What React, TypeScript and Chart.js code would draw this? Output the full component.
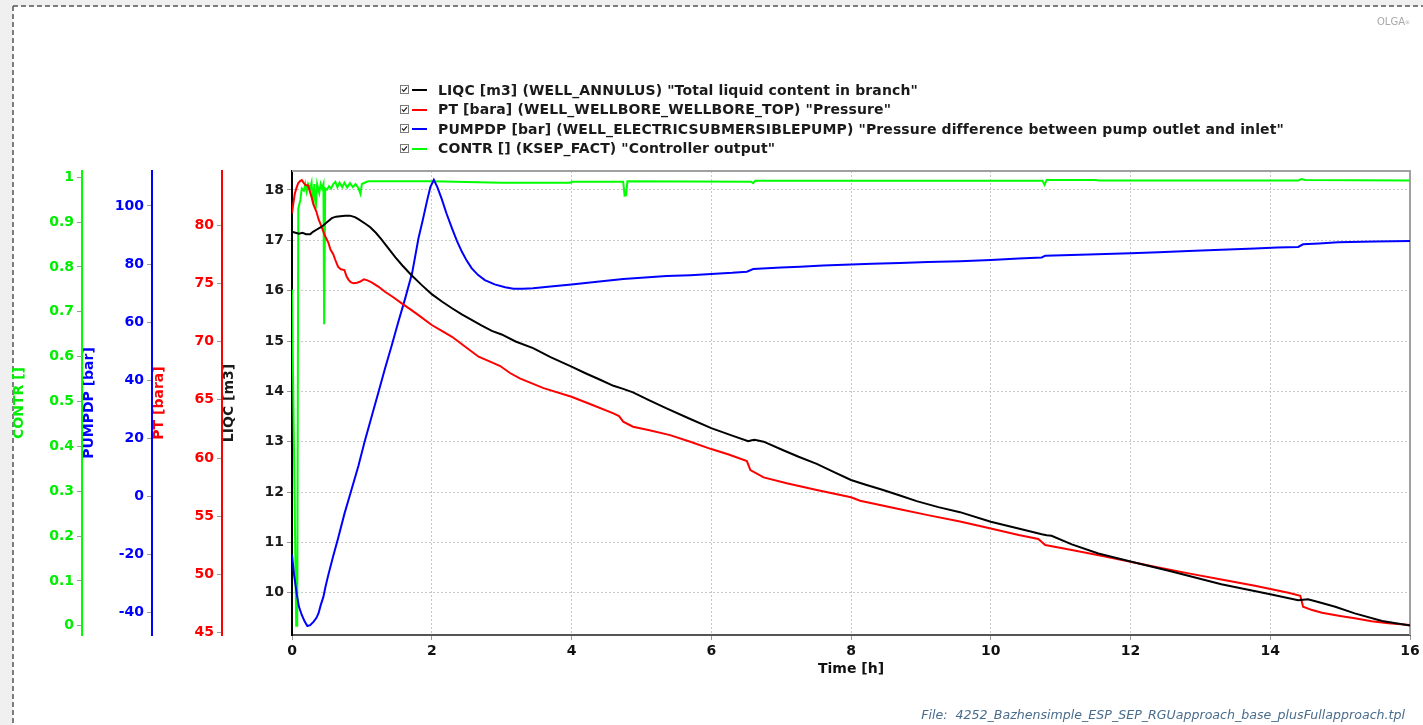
import React, { useEffect, useRef } from "react";
import { Chart, registerables } from "chart.js";

Chart.register(...registerables);

const FONT = '"DejaVu Sans", Verdana, sans-serif';

// ---------- legend / series ----------
const seriesLabels = [
  'LIQC [m3] (WELL_ANNULUS) "Total liquid content in branch"',
  'PT [bara] (WELL_WELLBORE_WELLBORE_TOP) "Pressure"',
  'PUMPDP [bar] (WELL_ELECTRICSUBMERSIBLEPUMP) "Pressure difference between pump outlet and inlet"',
  'CONTR [] (KSEP_FACT) "Controller output"',
];
const seriesColors = ["#000000", "#ff0000", "#0000ff", "#00ff00"];

// ---------- LIQC [m3] ----------
const liqcTime = [0.0, 0.05, 0.1, 0.15, 0.2, 0.26, 0.3, 0.35, 0.4, 0.45, 0.5, 0.57, 0.63, 0.69, 0.76, 0.83, 0.9, 0.95, 1.05, 1.12, 1.2, 1.28, 1.38, 1.48, 1.58, 1.7, 1.85, 2.0, 2.15, 2.29, 2.43, 2.57, 2.71, 2.86, 3.0, 3.2, 3.45, 3.7, 4.0, 4.2, 4.41, 4.6, 4.74, 4.88, 5.1, 5.36, 5.7, 6.0, 6.3, 6.53, 6.58, 6.62, 6.75, 7.03, 7.25, 7.51, 7.75, 8.0, 8.2, 8.46, 8.7, 8.94, 9.25, 9.56, 10.0, 10.44, 10.73, 10.8, 10.87, 11.16, 11.54, 12.0, 12.59, 13.3, 14.0, 14.4, 14.47, 14.54, 14.7, 14.93, 15.21, 15.6, 16.0];
const liqcValues = [17.17, 17.15, 17.13, 17.15, 17.12, 17.12, 17.17, 17.21, 17.25, 17.3, 17.36, 17.44, 17.47, 17.48, 17.49, 17.49, 17.46, 17.42, 17.33, 17.26, 17.15, 17.02, 16.84, 16.66, 16.5, 16.32, 16.12, 15.93, 15.78, 15.65, 15.53, 15.42, 15.31, 15.2, 15.13, 14.99, 14.86, 14.68, 14.49, 14.36, 14.23, 14.11, 14.05, 13.98, 13.83, 13.66, 13.45, 13.27, 13.12, 13.01, 13.03, 13.04, 13.0, 12.83, 12.7, 12.56, 12.4, 12.24, 12.15, 12.04, 11.93, 11.82, 11.7, 11.6, 11.41, 11.26, 11.16, 11.14, 11.13, 10.96, 10.78, 10.62, 10.42, 10.17, 9.97, 9.85, 9.86, 9.87, 9.81, 9.72, 9.59, 9.44, 9.35];

// ---------- PT [bara] ----------
const ptTime = [0.0, 0.02, 0.04, 0.07, 0.09, 0.12, 0.14, 0.17, 0.19, 0.23, 0.25, 0.28, 0.31, 0.35, 0.38, 0.42, 0.47, 0.52, 0.55, 0.59, 0.62, 0.66, 0.7, 0.75, 0.78, 0.81, 0.84, 0.88, 0.93, 0.97, 1.03, 1.08, 1.14, 1.24, 1.33, 1.45, 1.57, 1.69, 1.81, 2.0, 2.15, 2.29, 2.48, 2.67, 2.86, 2.98, 3.12, 3.26, 3.6, 4.0, 4.3, 4.6, 4.68, 4.74, 4.88, 5.1, 5.41, 5.7, 6.0, 6.25, 6.51, 6.56, 6.75, 7.08, 7.51, 8.0, 8.13, 8.7, 9.1, 9.56, 10.0, 10.4, 10.68, 10.78, 11.16, 11.6, 12.0, 12.4, 12.83, 13.3, 13.78, 14.26, 14.43, 14.47, 14.6, 14.74, 15.0, 15.21, 15.45, 15.69, 16.0];
const ptValues = [81.0, 81.9, 82.7, 83.3, 83.6, 83.8, 83.86, 83.6, 83.45, 83.4, 83.0, 82.4, 81.7, 81.14, 80.5, 79.9, 79.1, 78.5, 77.9, 77.5, 77.0, 76.4, 76.2, 76.14, 75.6, 75.3, 75.1, 75.0, 75.05, 75.13, 75.34, 75.25, 75.08, 74.7, 74.27, 73.8, 73.28, 72.78, 72.27, 71.42, 70.9, 70.41, 69.55, 68.7, 68.21, 67.9, 67.3, 66.84, 66.0, 65.26, 64.55, 63.83, 63.6, 63.12, 62.69, 62.4, 61.97, 61.4, 60.77, 60.3, 59.74, 58.97, 58.34, 57.83, 57.25, 56.63, 56.34, 55.6, 55.1, 54.55, 53.96, 53.4, 53.05, 52.53, 52.1, 51.6, 51.1, 50.6, 50.1, 49.57, 49.04, 48.44, 48.18, 47.24, 46.95, 46.72, 46.45, 46.24, 46.0, 45.81, 45.67];

// ---------- PUMPDP [bar] ----------
const pumpTime = [0.0, 0.03, 0.07, 0.1, 0.14, 0.18, 0.22, 0.26, 0.31, 0.35, 0.38, 0.41, 0.45, 0.48, 0.52, 0.59, 0.66, 0.75, 0.85, 0.95, 1.04, 1.14, 1.24, 1.33, 1.43, 1.52, 1.62, 1.72, 1.81, 1.87, 1.93, 1.98, 2.03, 2.08, 2.14, 2.21, 2.29, 2.36, 2.43, 2.5, 2.57, 2.66, 2.76, 2.9, 3.05, 3.17, 3.3, 3.45, 3.7, 4.0, 4.4, 4.74, 5.0, 5.36, 5.7, 6.0, 6.3, 6.51, 6.6, 7.0, 7.27, 7.6, 8.0, 8.3, 8.7, 9.1, 9.56, 10.0, 10.4, 10.73, 10.78, 11.4, 12.0, 12.4, 12.83, 13.3, 13.78, 14.1, 14.4, 14.47, 14.7, 14.97, 15.5, 16.0];
const pumpValues = [-20.1, -27.0, -33.9, -38.0, -40.8, -43.0, -44.6, -44.3, -43.1, -41.8, -40.2, -37.5, -34.5, -31.0, -27.0, -20.5, -14.4, -6.0, 2.2, 10.5, 18.9, 27.5, 36.1, 44.0, 52.2, 60.0, 68.2, 77.0, 88.9, 95.0, 101.5, 106.5, 109.0, 106.5, 102.6, 97.5, 92.3, 88.0, 84.3, 81.2, 78.6, 76.3, 74.5, 73.0, 72.0, 71.5, 71.5, 71.7, 72.3, 73.0, 74.0, 74.9, 75.3, 75.9, 76.2, 76.6, 77.0, 77.4, 78.3, 78.8, 79.1, 79.5, 79.9, 80.1, 80.4, 80.7, 81.0, 81.4, 81.9, 82.3, 82.9, 83.3, 83.7, 84.1, 84.5, 84.9, 85.4, 85.7, 85.9, 86.8, 87.1, 87.5, 87.8, 87.95];

// ---------- CONTR [] ----------
const contrTime = [0.0, 0.06, 0.075, 0.09, 0.12, 0.14, 0.17, 0.19, 0.21, 0.23, 0.26, 0.28, 0.3, 0.32, 0.34, 0.36, 0.39, 0.41, 0.43, 0.45, 0.46, 0.475, 0.5, 0.53, 0.56, 0.59, 0.62, 0.65, 0.68, 0.72, 0.75, 0.79, 0.83, 0.87, 0.91, 0.95, 0.98, 1.0, 1.07, 1.1, 2.0, 3.0, 3.99, 4.0, 4.74, 4.76, 4.78, 4.8, 6.57, 6.6, 6.63, 10.74, 10.77, 10.8, 11.5, 11.55, 14.4, 14.45, 14.5, 16.0];
const contrValues = [0.75, 0.0, 0.0, 0.93, 0.95, 0.975, 0.97, 0.985, 0.968, 0.985, 0.975, 0.988, 0.94, 0.985, 0.93, 0.985, 0.965, 0.985, 0.975, 0.985, 0.672, 0.975, 0.972, 0.98, 0.975, 0.985, 0.99, 0.978, 0.988, 0.978, 0.988, 0.977, 0.987, 0.978, 0.985, 0.976, 0.963, 0.985, 0.99, 0.991, 0.991, 0.988, 0.988, 0.99, 0.99, 0.959, 0.96, 0.991, 0.99, 0.987, 0.9925, 0.9925, 0.983, 0.994, 0.994, 0.993, 0.993, 0.996, 0.994, 0.993];

// ---------- axes ----------
const timeTicks = [0, 2, 4, 6, 8, 10, 12, 14, 16];
const timeRange = [0, 16];
const liqcTicks = [10, 11, 12, 13, 14, 15, 16, 17, 18];
const liqcRange = [9.16, 18.377];
const ptTicks = [45, 50, 55, 60, 65, 70, 75, 80];
const ptRange = [44.81, 84.64];
const pumpTicks = [-40, -20, 0, 20, 40, 60, 80, 100];
const pumpRange = [-47.7, 112.05];
const contrTicks = [0, 0.1, 0.2, 0.3, 0.4, 0.5, 0.6, 0.7, 0.8, 0.9, 1];
const contrRange = [-0.0207, 1.014];

const toPoints = (t: number[], v: number[]) => t.map((x, i) => ({ x, y: v[i] }));

function makeYScale(a: any) {
  return {
    type: "linear",
    position: "left",
    weight: a.weight,
    min: a.range[0],
    max: a.range[1],
    bounds: "data",
    afterFit: (s: any) => {
      s.width = 70;
    },
    afterBuildTicks: (s: any) => {
      s.ticks = a.ticks.map((v: number) => ({ value: v }));
    },
    ticks: {
      color: a.labelColor,
      font: { family: FONT, size: 14, weight: "bold" },
      padding: 3,
      autoSkip: false,
      callback: (v: any) => String(v),
    },
    grid: {
      display: true,
      drawOnChartArea: a.grid,
      drawTicks: true,
      tickLength: 5,
      tickColor: "#9a9a9a",
      tickWidth: 1,
      tickBorderDash: [],
      color: "#c8c8c8",
      lineWidth: 1,
    },
    border: { display: true, color: a.color, width: 2, dash: [2, 2] },
    title: {
      display: true,
      text: a.title,
      color: a.labelColor,
      font: { family: FONT, size: 14, weight: "bold", lineHeight: 1 },
      padding: { top: 0, bottom: 0 },
    },
  };
}

const framePlugin = {
  id: "olgaFrame",
  beforeDraw(chart: any) {
    const ctx = chart.ctx;
    const w = chart.width;
    const h = chart.height;
    ctx.save();
    ctx.fillStyle = "#f0f0f0";
    ctx.fillRect(0, 0, w, h);
    ctx.fillStyle = "#ffffff";
    ctx.fillRect(13, 6, w - 13, h - 6);
    ctx.strokeStyle = "#555555";
    ctx.lineWidth = 1.5;
    ctx.setLineDash([5, 3]);
    ctx.beginPath();
    ctx.moveTo(13, 6);
    ctx.lineTo(w, 6);
    ctx.moveTo(13, 6);
    ctx.lineTo(13, h);
    ctx.stroke();
    ctx.restore();
  },
  beforeDatasetsDraw(chart: any) {
    const { ctx, chartArea: a } = chart;
    ctx.save();
    ctx.strokeStyle = "#a0a0a0";
    ctx.lineWidth = 2;
    ctx.beginPath();
    ctx.moveTo(a.left, a.top);
    ctx.lineTo(a.right, a.top);
    ctx.lineTo(a.right, a.bottom);
    ctx.stroke();
    ctx.restore();
  },
};

export default function App() {
  const ref = useRef<HTMLCanvasElement>(null);

  useEffect(() => {
    if (!ref.current) return;
    Chart.defaults.font.family = FONT;
    const lineDs = (label: string, color: string, data: any, axis: string) => ({
      label,
      data,
      yAxisID: axis,
      borderColor: color,
      backgroundColor: color,
      borderWidth: 2,
      pointRadius: 0,
      pointHoverRadius: 0,
      fill: false,
      tension: 0,
    });
    const chart = new Chart(ref.current, {
      type: "line",
      data: {
        datasets: [
          lineDs(seriesLabels[0], seriesColors[0], toPoints(liqcTime, liqcValues), "yLIQC"),
          lineDs(seriesLabels[1], seriesColors[1], toPoints(ptTime, ptValues), "yPT"),
          lineDs(seriesLabels[2], seriesColors[2], toPoints(pumpTime, pumpValues), "yPUMP"),
          lineDs(seriesLabels[3], seriesColors[3], toPoints(contrTime, contrValues), "yCONTR"),
        ],
      },
      options: {
        animation: false,
        responsive: false,
        maintainAspectRatio: false,
        devicePixelRatio: 1,
        parsing: true,
        layout: { padding: { left: 12, right: 13, top: 171, bottom: 40 } },
        plugins: { legend: { display: false }, tooltip: { enabled: false } },
        events: [],
        scales: {
          x: {
            type: "linear",
            position: "bottom",
            min: timeRange[0],
            max: timeRange[1],
            bounds: "data",
            afterFit: (s: any) => {
              s.height = 50;
            },
            afterBuildTicks: (s: any) => {
              s.ticks = timeTicks.map((v) => ({ value: v }));
            },
            ticks: {
              color: "#111111",
              font: { family: FONT, size: 14, weight: "bold" },
              padding: 3,
              autoSkip: false,
              maxRotation: 0,
              callback: (v: any) => String(v),
            },
            grid: {
              display: true,
              drawOnChartArea: true,
              drawTicks: true,
              tickLength: 5,
              tickColor: "#9a9a9a",
              tickBorderDash: [],
              color: "#c8c8c8",
              lineWidth: 1,
            },
            border: { display: true, color: "#555555", width: 2, dash: [2, 2] },
            title: {
              display: true,
              text: "Time [h]",
              color: "#111111",
              font: { family: FONT, size: 14, weight: "bold", lineHeight: 1 },
              padding: { top: 0, bottom: 9 },
            },
          },
          yLIQC: makeYScale({ weight: 1, range: liqcRange, ticks: liqcTicks, color: "#000000", labelColor: "#1a1a1a", title: "LIQC [m3]", grid: true }),
          yPT: makeYScale({ weight: 2, range: ptRange, ticks: ptTicks, color: "#ff0000", labelColor: "#ff0000", title: "PT [bara]", grid: false }),
          yPUMP: makeYScale({ weight: 3, range: pumpRange, ticks: pumpTicks, color: "#0000ff", labelColor: "#0000ff", title: "PUMPDP [bar]", grid: false }),
          yCONTR: makeYScale({ weight: 4, range: contrRange, ticks: contrTicks, color: "#00ff00", labelColor: "#00ee00", title: "CONTR []", grid: false }),
        },
      } as any,
      plugins: [framePlugin],
    } as any);
    return () => chart.destroy();
  }, []);

  return (
    <div style={{ position: "fixed", left: 0, top: 0, width: 1423, height: 725, overflow: "hidden", background: "#f0f0f0" }}>
      <canvas ref={ref} width={1423} height={725} style={{ position: "absolute", left: 0, top: 0, width: 1423, height: 725 }} />
      <div
        style={{
          position: "absolute",
          left: 398,
          top: 80.5,
          fontFamily: FONT,
          fontWeight: "bold",
          fontSize: 14,
          letterSpacing: "0.12px",
          lineHeight: "19.67px",
          color: "#1a1a1a",
          whiteSpace: "pre",
        }}
      >
        {seriesLabels.map((lab, i) => (
          <div key={i} style={{ position: "relative", height: 19.67, paddingLeft: 40 }}>
            <svg width="9" height="9" style={{ position: "absolute", left: 2, top: 4.5 }}>
              <rect x="0.5" y="0.5" width="8" height="8" fill="#ffffff" stroke="#7a7a7a" strokeWidth="1" />
              <path d="M2 4.3 L3.7 6.3 L7 2.3" fill="none" stroke="#222222" strokeWidth="1.3" />
            </svg>
            <span style={{ position: "absolute", left: 14, top: 8.5, width: 15, height: 2, background: seriesColors[i] }} />
            {lab}
          </div>
        ))}
      </div>
      <div
        style={{
          position: "absolute",
          left: 1377,
          top: 15.5,
          fontFamily: FONT,
          fontSize: 10,
          lineHeight: "12px",
          color: "#a8a8a8",
          whiteSpace: "pre",
        }}
      >
        OLGA<span style={{ fontSize: 5, verticalAlign: "top" }}>®</span>
      </div>
      <div
        style={{
          position: "absolute",
          right: 18,
          top: 706.5,
          fontFamily: FONT,
          fontStyle: "italic",
          fontSize: 12.6,
          lineHeight: "15px",
          color: "#4a6c8c",
          whiteSpace: "pre",
        }}
      >
        {"File:  4252_Bazhensimple_ESP_SEP_RGUapproach_base_plusFullapproach.tpl"}
      </div>
    </div>
  );
}
